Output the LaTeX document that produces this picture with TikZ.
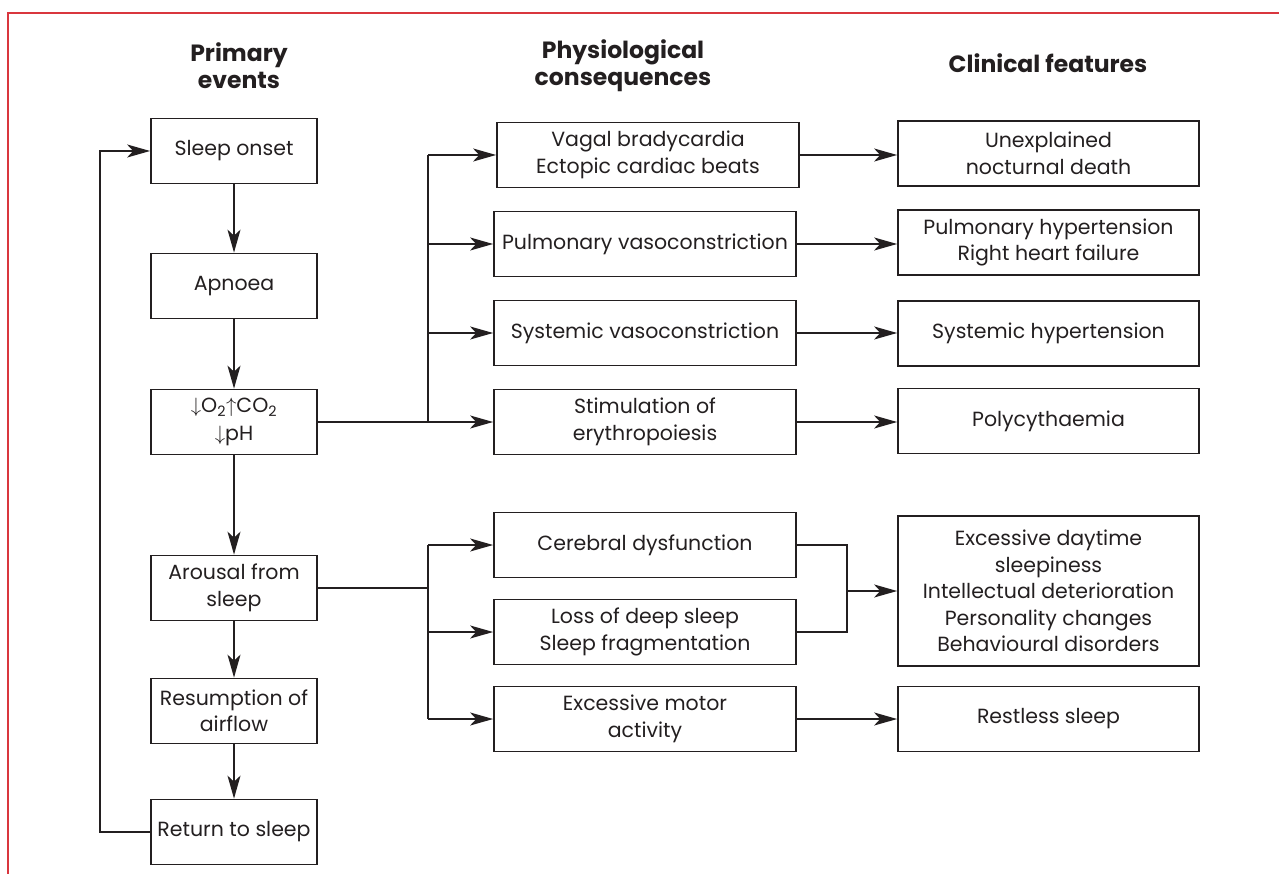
\documentclass[tikz,border=0pt]{standalone}
\usepackage{fontspec}
\setmainfont{Poppins}
\usetikzlibrary{arrows.meta}
\definecolor{frame}{HTML}{D9363E}
\definecolor{ink}{HTML}{231F20}
\newcommand\dgbody{\fontsize{20.5}{26.5}\selectfont}
\newcommand\dghead{\fontsize{23.5}{27}\selectfont\bfseries}
\begin{document}
\begin{tikzpicture}[x=1pt,y=-1pt,
  box/.style={draw=ink, line width=1.7pt, rectangle, align=center, inner sep=0pt, font=\dgbody, text=ink},
  lbox/.style={box, minimum width=166pt, minimum height=65pt},
  mbox/.style={box, minimum width=302pt, minimum height=65pt},
  rbox/.style={box, minimum width=301pt, minimum height=65pt},
  head/.style={align=center, font=\dghead, text=ink, inner sep=0pt},
  ln/.style={draw=ink, line width=1.7pt},
  arr/.style={ln, -{Stealth[length=23pt,width=13pt,inset=6pt]}}]
\useasboundingbox (0,0) rectangle (1279,874);
% frame
\draw[frame, line width=1.5pt] (8,874) -- (8,13) -- (1279,13);
% headers
\node[head] (h1) at (239,66) {Primary\\events};
\node[head] (h2) at (623,66) {Physiological\\consequences};
\node[head] (h3) at (1048,63) {Clinical features};
% left column
\node[lbox] (sleep) at (234,151) {Sleep onset};
\node[lbox] (apn) at (234,286) {Apnoea};
\node[lbox] (o2) at (234,422) {$\downarrow$O\textsubscript{2}$\uparrow$CO\textsubscript{2}\\[1pt]$\downarrow$pH};
\node[lbox] (arou) at (234,588) {Arousal from\\sleep};
\node[lbox] (resu) at (234,711) {Resumption of\\airflow};
\node[lbox] (ret) at (234,832) {Return to sleep};
% middle column
\node[mbox] (vagal) at (648,155) {Vagal bradycardia\\Ectopic cardiac beats};
\node[mbox] (pulv) at (645,244) {Pulmonary vasoconstriction};
\node[mbox] (sysv) at (645,333) {Systemic vasoconstriction};
\node[mbox] (stim) at (645,422) {Stimulation of\\erythropoiesis};
\node[mbox] (cere) at (645,545) {Cerebral dysfunction};
\node[mbox] (loss) at (645,632) {Loss of deep sleep\\Sleep fragmentation};
\node[mbox] (motor) at (645,719) {Excessive motor\\activity};
% right column
\node[rbox] (unex) at (1048.5,153.5) {Unexplained\\nocturnal death};
\node[rbox] (pulh) at (1048.5,242.5) {Pulmonary hypertension\\Right heart failure};
\node[rbox] (sysh) at (1048.5,333.5) {Systemic hypertension};
\node[rbox] (poly) at (1048.5,421) {Polycythaemia};
\node[rbox, minimum height=150pt] (exds) at (1048.5,591) {Excessive daytime\\sleepiness\\Intellectual deterioration\\Personality changes\\Behavioural disorders};
\node[rbox] (rest) at (1048.5,719) {Restless sleep};
% helper coordinates
\coordinate (bx) at (428,0);
\coordinate (mx) at (847,0);
\coordinate (lx) at (100,0);
% left column flow
\draw[arr] (sleep) -- (apn);
\draw[arr] (apn) -- (o2);
\draw[arr] (o2) -- (arou);
\draw[arr] (arou) -- (resu);
\draw[arr] (resu) -- (ret);
\draw[arr] (ret.west) -- (lx |- ret.west) |- (sleep.west);
% branches from O2
\draw[arr] (o2.east) -- (o2.east -| stim.west);
\draw[ln] (bx |- o2.east) -- (bx |- vagal.west);
\draw[arr] (bx |- vagal.west) -- (vagal.west);
\draw[arr] (bx |- pulv.west) -- (pulv.west);
\draw[arr] (bx |- sysv.west) -- (sysv.west);
% branches from arousal
\draw[ln] (arou.east) -- (bx |- arou.east);
\draw[ln] (bx |- cere.west) -- (bx |- motor.west);
\draw[arr] (bx |- cere.west) -- (cere.west);
\draw[arr] (bx |- loss.west) -- (loss.west);
\draw[arr] (bx |- motor.west) -- (motor.west);
% middle to right
\draw[arr] (vagal.east) -- (vagal.east -| unex.west);
\draw[arr] (pulv.east) -- (pulv.east -| pulh.west);
\draw[arr] (sysv.east) -- (sysv.east -| sysh.west);
\draw[arr] (stim.east) -- (stim.east -| poly.west);
\draw[ln] (cere.east) -| (mx |- loss.east) -- (loss.east);
\draw[arr] (mx |- exds.west) -- (exds.west);
\draw[arr] (motor.east) -- (motor.east -| rest.west);
\end{tikzpicture}
\end{document}
